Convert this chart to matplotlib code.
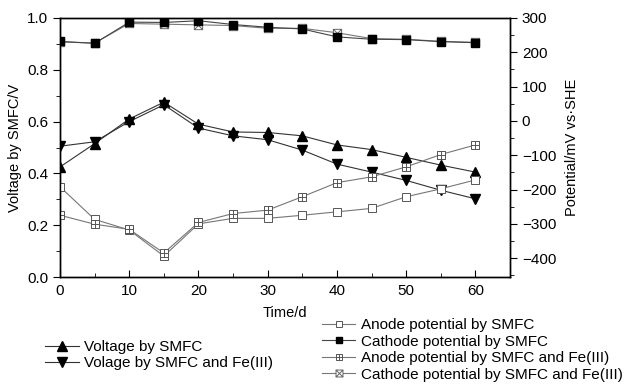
import numpy as np
import matplotlib
matplotlib.use('Agg')
import matplotlib.pyplot as plt
from matplotlib.path import Path
from matplotlib.lines import Line2D

plt.rcParams['font.family'] = ['Liberation Sans', 'DejaVu Sans']

days = [0, 5, 10, 15, 20, 25, 30, 35, 40, 45, 50, 55, 60]
voltage_smfc = [0.425, 0.515, 0.61, 0.675, 0.59, 0.56, 0.558, 0.545, 0.51, 0.492, 0.462, 0.432, 0.405]
voltage_fe = [0.505, 0.522, 0.60, 0.665, 0.575, 0.545, 0.53, 0.49, 0.436, 0.405, 0.373, 0.335, 0.302]
anode_smfc = [-192, -287, -318, -394, -300, -284, -284, -275, -265, -255, -221, -198, -172]
cathode_smfc = [232, 226, 288, 287, 292, 281, 273, 268, 245, 238, 237, 231, 228]
anode_fe = [-275, -301, -316, -385, -296, -270, -260, -221, -180, -163, -134, -98, -70]
cathode_fe = [230, 227, 284, 282, 280, 278, 270, 270, 257, 240, 238, 232, 229]

# square with plus / cross inside
sq = [(-1, -1), (1, -1), (1, 1), (-1, 1), (-1, -1)]
sq_codes = [Path.MOVETO, Path.LINETO, Path.LINETO, Path.LINETO, Path.CLOSEPOLY]
box_plus = Path(sq + [(0, -1), (0, 1), (-1, 0), (1, 0)],
                sq_codes + [Path.MOVETO, Path.LINETO, Path.MOVETO, Path.LINETO])
box_x = Path(sq + [(-1, -1), (1, 1), (-1, 1), (1, -1)],
             sq_codes + [Path.MOVETO, Path.LINETO, Path.MOVETO, Path.LINETO])

fig = plt.figure(figsize=(6.27, 3.87), dpi=100)
ax = fig.add_axes([0.0957, 0.2842, 0.7177, 0.6693])
ax2 = ax.twinx()

vstyle = dict(color='#333333', lw=0.8, markersize=7, markerfacecolor='black', markeredgecolor='black')
ax.plot(days, voltage_smfc, marker='^', **vstyle)
ax.plot(days, voltage_fe, marker='v', **vstyle)

pcol = '#777777'
ax2.plot(days, cathode_fe, color=pcol, lw=0.8, marker=box_x, markersize=6,
         markerfacecolor='white', markeredgecolor='#666666', markeredgewidth=0.7)
ax2.plot(days, anode_smfc, color=pcol, lw=0.8, marker='s', markersize=6,
         markerfacecolor='white', markeredgecolor='#555555', markeredgewidth=0.7)
ax2.plot(days, anode_fe, color=pcol, lw=0.8, marker=box_plus, markersize=6,
         markerfacecolor='white', markeredgecolor='#555555', markeredgewidth=0.7)
ax2.plot(days, cathode_smfc, color='#444444', lw=0.8, marker='s', markersize=6,
         markerfacecolor='black', markeredgecolor='black')

ax.set_xlim(0, 65)
ax.set_ylim(0, 1.0)
ax2.set_ylim(-455, 300)

ax.set_xticks(range(0, 61, 10))
ax.set_xticks(range(5, 61, 10), minor=True)
ax.set_yticks(np.arange(0, 1.01, 0.2))
ax.set_yticks(np.arange(0.1, 1.0, 0.2), minor=True)
ax.set_yticklabels(['0.0', '0.2', '0.4', '0.6', '0.8', '1.0'])
ax2.set_yticks(range(-400, 301, 100))
ax2.set_yticks(range(-450, 300, 100), minor=True)

ax.tick_params(axis='x', which='both', direction='in', labelsize=11, pad=5)
ax.tick_params(axis='x', which='major', length=5)
ax.tick_params(axis='x', which='minor', length=3)
ax.tick_params(axis='y', which='both', direction='out', labelsize=11)
ax.tick_params(axis='y', which='major', length=5)
ax.tick_params(axis='y', which='minor', length=3)
ax2.tick_params(axis='y', which='both', direction='out', labelsize=11)
ax2.tick_params(axis='y', which='major', length=5)
ax2.tick_params(axis='y', which='minor', length=3)

for a in (ax, ax2):
    for s in a.spines.values():
        s.set_linewidth(1.0)

ax.set_xlabel('Time/d', fontsize=10.5, labelpad=6)
ax.set_ylabel('Voltage by SMFC/V', fontsize=10.5, labelpad=4)
ax2.set_ylabel('Potential/mV vs·SHE', fontsize=10.5, labelpad=6)

h1 = [Line2D([], [], marker='^', **vstyle), Line2D([], [], marker='v', **vstyle)]
fig.legend(h1, ['Voltage by SMFC', 'Volage by SMFC and Fe(III)'],
           loc='upper left', bbox_to_anchor=(0.06, 0.14), frameon=False,
           fontsize=11, handlelength=2.2, handletextpad=0.35, labelspacing=0.12,
           borderpad=0)

h2 = [Line2D([], [], color=pcol, lw=0.8, marker='s', markersize=5, markerfacecolor='white',
             markeredgecolor='#555555', markeredgewidth=0.7),
      Line2D([], [], color='#444444', lw=0.8, marker='s', markersize=5, markerfacecolor='black',
             markeredgecolor='black'),
      Line2D([], [], color=pcol, lw=0.8, marker=box_plus, markersize=5, markerfacecolor='white',
             markeredgecolor='#555555', markeredgewidth=0.7),
      Line2D([], [], color=pcol, lw=0.8, marker=box_x, markersize=5, markerfacecolor='white',
             markeredgecolor='#666666', markeredgewidth=0.7)]
fig.legend(h2, ['Anode potential by SMFC', 'Cathode potential by SMFC',
                'Anode potential by SMFC and Fe(III)', 'Cathode potential by SMFC and Fe(III)'],
           loc='upper left', bbox_to_anchor=(0.501, 0.197), frameon=False,
           fontsize=11, handlelength=2.2, handletextpad=0.4, labelspacing=0.16,
           borderpad=0)

fig.savefig('out.png', dpi=100)
